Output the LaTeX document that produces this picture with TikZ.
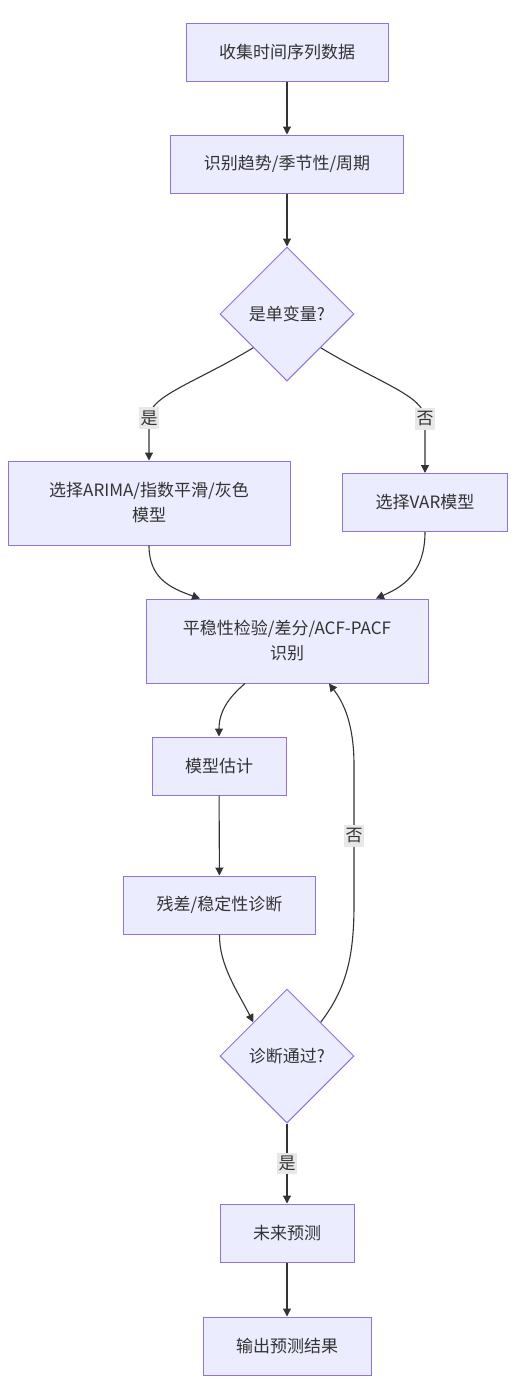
\documentclass[tikz,border=0pt]{standalone}
\usepackage{fontspec}
\setmainfont{Noto Sans CJK SC}
\usepackage{tikz}
\usetikzlibrary{shapes.geometric,arrows.meta}
\definecolor{boxfill}{HTML}{ECECFF}
\definecolor{boxline}{HTML}{9370DB}
\definecolor{edgecol}{HTML}{333333}
\definecolor{textcol}{HTML}{333333}
\definecolor{lblfill}{HTML}{E8E8E8}

\begin{document}
\begin{tikzpicture}[x=1pt,y=-1pt,
    box/.style={draw=boxline,fill=boxfill,line width=1pt,text=textcol,inner xsep=33pt,minimum height=58pt,align=center,font=\fontsize{17}{25}\selectfont},
    choice/.style={diamond,aspect=1,draw=boxline,fill=boxfill,line width=1pt,text=textcol,minimum width=134pt,minimum height=134pt,inner sep=0pt,font=\fontsize{17}{25}\selectfont},
    arr/.style={draw=edgecol,line width=1.1pt,-{Triangle[length=8pt,width=8pt]}},
    lbl/.style={fill=lblfill,text=textcol,inner xsep=1.5pt,inner ysep=3.5pt,font=\fontsize{17}{20}\selectfont}]
    \useasboundingbox (0,0) rectangle (515,1395);

    \node[box] (collect) at (287,52) {收集时间序列数据};
    \node[box] (trend) at (287,164) {识别趋势/季节性/周期};
    \node[choice] (univar) at (287,314) {是单变量?};
    \node[box,minimum width=282pt,minimum height=84pt] (arima) at (149,503) {选择ARIMA/指数平滑/灰色\\模型};
    \node[box] (var) at (425,502.5) {选择VAR模型};
    \node[box,minimum width=282pt,minimum height=84pt] (station) at (287,641) {平稳性检验/差分/ACF-PACF\\识别};
    \node[box] (estim) at (219,766) {模型估计};
    \node[box] (resid) at (219.5,905) {残差/稳定性诊断};
    \node[choice] (passed) at (287,1056) {诊断通过?};
    \node[box] (forecast) at (287,1233) {未来预测};
    \node[box] (output) at (287,1346) {输出预测结果};

    \draw[arr] (collect) -- (trend);
    \draw[arr] (trend) -- (univar);
    \draw[arr] (univar.south west) .. controls (195,383) and (149,396) .. (149,418) node[lbl]{是} -- (arima.north);
    \draw[arr] (univar.south east) .. controls (379,383) and (425,396) .. (425,419) node[lbl]{否} -- (var.north);
    \draw[arr] (arima.south) .. controls (149,578) and (170,588) .. ([xshift=-87pt]station.north);
    \draw[arr] (var.south) .. controls (425,575) and (400,588) .. ([xshift=89pt]station.north);
    \draw[arr] ([xshift=-42pt]station.south) .. controls (228,698) and (219,712) .. (estim.north);
    \draw[arr] (estim) -- (resid);
    \draw[arr] (resid.south) .. controls (219,965) and (238,992) .. (passed.north west);
    \draw[arr] (passed.north east) .. controls (345,990) and (354,960) .. (354,905) -- (354,836) node[lbl]{否} -- (354,765) .. controls (354,718) and (340,698) .. ([xshift=42pt]station.south);
    \draw[arr] (passed) -- node[lbl]{是} (forecast);
    \draw[arr] (forecast) -- (output);

\end{tikzpicture}
\end{document}
